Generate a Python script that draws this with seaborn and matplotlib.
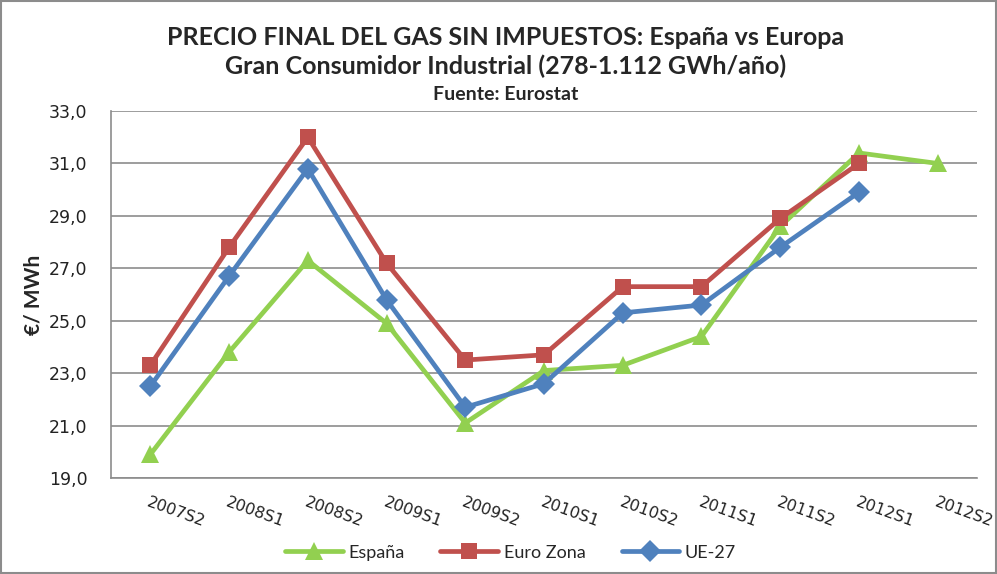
import pandas as pd
import numpy as np
import matplotlib
matplotlib.use("Agg")
import matplotlib.pyplot as plt
import matplotlib.patches as patches
import seaborn as sns

periodos = ["2007S2", "2008S1", "2008S2", "2009S1", "2009S2", "2010S1",
            "2010S2", "2011S1", "2011S2", "2012S1", "2012S2"]
espana = [19.9, 23.8, 27.3, 24.9, 21.1, 23.1, 23.3, 24.4, 28.6, 31.4, 31.0]
euro_zona = [23.3, 27.8, 32.0, 27.2, 23.5, 23.7, 26.3, 26.3, 28.9, 31.0, np.nan]
ue27 = [22.5, 26.7, 30.8, 25.8, 21.7, 22.6, 25.3, 25.6, 27.8, 29.9, np.nan]
series = ["España", "Euro Zona", "UE-27"]

df = pd.DataFrame({
    "periodo": periodos * 3,
    "precio": espana + euro_zona + ue27,
    "serie": [s for s in series for _ in periodos],
})

sns.set_style("white")
plt.rcParams["font.family"] = ["Lato", "DejaVu Sans"]

colores = {"España": "#92D050", "Euro Zona": "#C0504D", "UE-27": "#4F81BD"}
marcadores = {"España": "^", "Euro Zona": "s", "UE-27": "D"}

fig = plt.figure(figsize=(9.97, 5.74), dpi=100)
ax = fig.add_axes([0.1113, 0.1672, 0.8687, 0.6394])

sns.lineplot(data=df, x="periodo", y="precio", hue="serie", style="serie",
             palette=colores, markers=marcadores, dashes=False, sort=False,
             linewidth=3.4, markersize=11, markeredgewidth=0, ax=ax)

# triángulos algo más grandes, como en el original
for linea in ax.lines:
    if linea.get_marker() == "^":
        linea.set_markersize(12.5)

# Ejes y rejilla
ax.set_xlim(-0.5, len(periodos) - 0.5)
ax.set_ylim(19, 33)
ax.set_yticks(np.arange(19, 33.1, 2))
ax.set_yticklabels([f"{v:.1f}".replace(".", ",") for v in np.arange(19, 33.1, 2)],
                   fontsize=12.5, color="#222222", family="DejaVu Sans")
ax.yaxis.grid(True, color="#8c8c8c", linewidth=1.2)
ax.xaxis.grid(False)
ax.set_axisbelow(True)
for lado in ["top", "right"]:
    ax.spines[lado].set_visible(False)
for lado in ["left", "bottom"]:
    ax.spines[lado].set_color("#8c8c8c")
    ax.spines[lado].set_linewidth(1.2)

ax.set_xticks(range(len(periodos)))
ax.set_xticklabels(periodos, rotation=-20, ha="left", rotation_mode="anchor",
                   fontsize=11.5, color="#222222", family="DejaVu Sans")
ax.set_xticks(np.arange(-0.5, len(periodos), 1), minor=True)
ax.tick_params(axis="x", which="major", length=0, pad=12)
ax.tick_params(axis="x", which="minor", length=5, color="#8c8c8c", width=1.2)
ax.tick_params(axis="y", length=0, pad=17)

ax.set_xlabel("")
ax.set_ylabel("€/ MWh", fontsize=15, fontweight="bold", labelpad=4)

# Títulos
fig.text(0.507, 0.934, "PRECIO FINAL DEL GAS SIN IMPUESTOS: España vs Europa",
         ha="center", va="center", fontsize=18, fontweight="bold")
fig.text(0.507, 0.885, "Gran Consumidor Industrial (278-1.112 GWh/año)",
         ha="center", va="center", fontsize=18, fontweight="bold")
fig.text(0.507, 0.836, "Fuente: Eurostat",
         ha="center", va="center", fontsize=14, fontweight="bold")

# Leyenda
handles, labels = ax.get_legend_handles_labels()
ax.legend(handles, labels, loc="center", bbox_to_anchor=(0.512, 0.037),
          bbox_transform=fig.transFigure, ncol=3, frameon=False,
          fontsize=13, handlelength=3.2, columnspacing=2.0, handletextpad=0.3)

fig.add_artist(patches.Rectangle((0.001, 0.001), 0.998, 0.997,
                                 transform=fig.transFigure, fill=False,
                                 edgecolor="#8c8c8c", linewidth=1.5))

fig.savefig("out.png", dpi=100)
